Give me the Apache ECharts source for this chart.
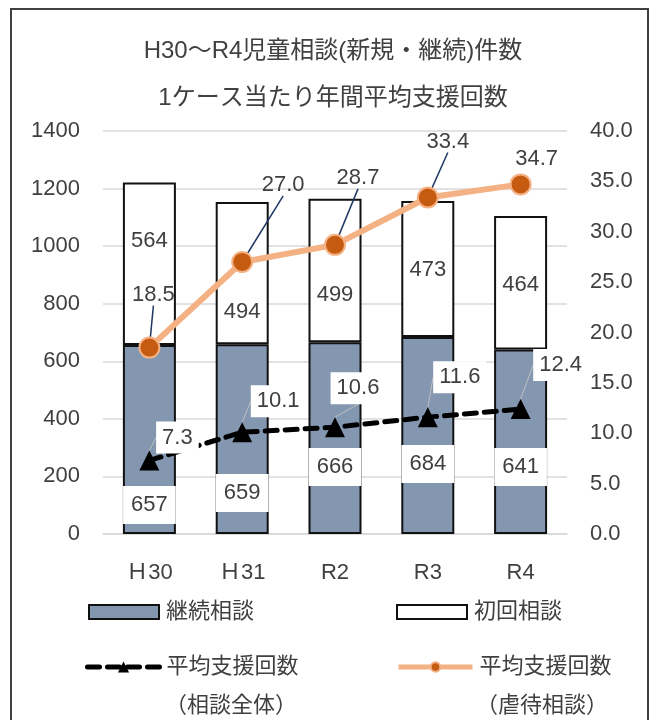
<!DOCTYPE html>
<html>
<head>
<meta charset="utf-8">
<script src="https://cdn.jsdelivr.net/npm/echarts@6/dist/echarts.min.js"></script>
<style>
html,body{margin:0;padding:0;background:#fff;}
#c{width:653px;height:720px;}
</style>
</head>
<body>
<div id="c"></div>
<script>
const categories = ['Ｈ30', 'Ｈ31', 'R2', 'R3', 'R4'];
const keizoku = [657, 659, 666, 684, 641];
const shokai = [564, 494, 499, 473, 464];
const avgAll = [7.3, 10.1, 10.6, 11.6, 12.4];
const avgAbuse = [18.5, 27.0, 28.7, 33.4, 34.7];
const leftTicks = { min: 0, max: 1400, interval: 200 };
const rightTicks = { min: 0, max: 40, interval: 5 };

// label placement (style only)
const keizokuLabelDy = [-29, -41, -67, -70, -67];
const shokaiLabelDy = [-23, 39, 24, 1, 2];
const abuseLabelOff = [[4, -53], [41, -77], [23, -67], [20, -56], [16, -25]];
const allLabelOff = [[28, -23], [36, -31], [23, -39], [32, -40], [40, -44]];

const FONT = "'Liberation Sans', 'Noto Sans CJK JP', sans-serif";
const TXT = '#404040';

const chart = echarts.init(document.getElementById('c'), null, { renderer: 'canvas' });

const names = ['継続相談', '初回相談', '平均支援回数（相談全体）', '平均支援回数（虐待相談）'];

function legendBox(name, left, top, w, h, icon, lineW) {
  const l = {
    data: [name], left: left, top: top, itemWidth: w, itemHeight: h, itemGap: 0,
    padding: 0, selectedMode: false,
    textStyle: { fontSize: 22, color: TXT, fontFamily: FONT, lineHeight: 26, padding: [0, 0, 0, 2] },
    formatter: function (n) { return n.replace(/（.*）/, ''); }
  };
  if (icon) l.icon = icon;
  if (lineW) l.lineStyle = { width: lineW };
  return l;
}

const option = {
  animation: false,
  backgroundColor: '#fff',
  textStyle: { fontFamily: FONT },
  title: {
    text: 'H30～R4児童相談(新規・継続)件数\n1ケース当たり年間平均支援回数',
    left: 328, top: 23, textAlign: 'center',
    textStyle: { fontSize: 24, fontWeight: 'normal', color: TXT, fontFamily: FONT, lineHeight: 47 }
  },
  legend: [
    legendBox(names[0], 88, 599, 70, 14, 'rect'),
    legendBox(names[1], 396, 599, 70, 14, 'rect'),
    legendBox(names[2], 85, 654, 72, 14, null, 5),
    legendBox(names[3], 396, 654, 74, 12, null, 5)
  ],
  grid: { left: 103, right: 86, top: 131, bottom: 186 },
  xAxis: {
    type: 'category', data: categories,
    axisLine: { show: true, lineStyle: { color: '#d9d9d9', width: 1.5 } },
    axisTick: { show: false },
    axisLabel: { fontSize: 22, color: TXT, margin: 28, fontFamily: FONT }
  },
  yAxis: [
    {
      type: 'value', min: leftTicks.min, max: leftTicks.max, interval: leftTicks.interval,
      axisLine: { show: false }, axisTick: { show: false },
      axisLabel: { fontSize: 22, color: TXT, margin: 23, fontFamily: FONT,
        formatter: function (v) { return String(v); } },
      splitLine: { lineStyle: { color: '#d9d9d9', width: 1.5 } }
    },
    {
      type: 'value', min: rightTicks.min, max: rightTicks.max, interval: rightTicks.interval,
      axisLine: { show: false }, axisTick: { show: false },
      axisLabel: { fontSize: 22, color: TXT, margin: 23, fontFamily: FONT,
        formatter: function (v) { return v.toFixed(1); } },
      splitLine: { show: false }
    }
  ],
  series: [
    {
      name: names[0], type: 'bar', stack: 'cnt', barWidth: 53, data: keizoku,
      itemStyle: { color: '#8497b0', borderColor: '#111', borderWidth: 2 },
      label: {
        show: true, position: 'insideBottom', fontSize: 22, color: TXT, fontFamily: FONT,
        backgroundColor: '#fff', padding: [9, 8, 7, 8]
      },
      labelLayout: function (p) {
        return { x: p.rect.x + p.rect.width / 2, y: p.rect.y + p.rect.height + keizokuLabelDy[p.dataIndex],
          align: 'center', verticalAlign: 'middle' };
      },
      z: 2
    },
    {
      name: names[1], type: 'bar', stack: 'cnt', barWidth: 53, data: shokai,
      itemStyle: { color: '#fff', borderColor: '#111', borderWidth: 2 },
      label: { show: true, position: 'inside', fontSize: 22, color: TXT, fontFamily: FONT },
      labelLayout: function (p) {
        return { x: p.rect.x + p.rect.width / 2, y: p.rect.y + p.rect.height / 2 + shokaiLabelDy[p.dataIndex],
          align: 'center', verticalAlign: 'middle' };
      },
      z: 2
    },
    {
      name: names[2], type: 'line', yAxisIndex: 1, data: avgAll,
      symbol: 'triangle', symbolSize: 20,
      itemStyle: { color: '#000' },
      lineStyle: { color: '#000', width: 5, type: [12, 8], cap: 'round' },
      label: {
        show: true, position: 'top', fontSize: 22, color: TXT, fontFamily: FONT,
        backgroundColor: '#fff', padding: [6, 6, 4, 6],
        formatter: function (p) { return p.value.toFixed(1); }
      },
      labelLine: { show: true, lineStyle: { color: '#bfbfbf', width: 1 } },
      labelLayout: function (p) {
        const o = allLabelOff[p.dataIndex];
        return { x: p.rect.x + p.rect.width / 2 + o[0], y: p.rect.y + p.rect.height / 2 + o[1],
          align: 'center', verticalAlign: 'middle' };
      },
      z: 5
    },
    {
      name: names[3], type: 'line', yAxisIndex: 1,
      data: avgAbuse.map(function (v, i) {
        return i === avgAbuse.length - 1 ? { value: v, labelLine: { show: false } } : v;
      }),
      symbol: 'circle', symbolSize: 20,
      itemStyle: { color: '#c55a11', borderColor: '#f4b183', borderWidth: 2 },
      lineStyle: { color: '#f4b183', width: 6 },
      label: {
        show: true, position: 'top', fontSize: 22, color: TXT, fontFamily: FONT,
        formatter: function (p) { return p.value.toFixed(1); }
      },
      labelLine: { show: true, lineStyle: { color: '#1f3864', width: 1.5 } },
      labelLayout: function (p) {
        const o = abuseLabelOff[p.dataIndex];
        return { x: p.rect.x + p.rect.width / 2 + o[0], y: p.rect.y + p.rect.height / 2 + o[1],
          align: 'center', verticalAlign: 'middle' };
      },
      z: 6
    }
  ],
  graphic: [
    { type: 'rect', shape: { x: 11, y: 9, width: 637, height: 730 }, silent: true,
      style: { fill: 'none', stroke: '#404040', lineWidth: 2 }, z: 100 },
    { type: 'text', left: 165, top: 695, silent: true,
      style: { text: '（相談全体）', fontSize: 22, fill: TXT, fontFamily: FONT } },
    { type: 'text', left: 476, top: 695, silent: true,
      style: { text: '（虐待相談）', fontSize: 22, fill: TXT, fontFamily: FONT } }
  ]
};
chart.setOption(option);
</script>
</body>
</html>
